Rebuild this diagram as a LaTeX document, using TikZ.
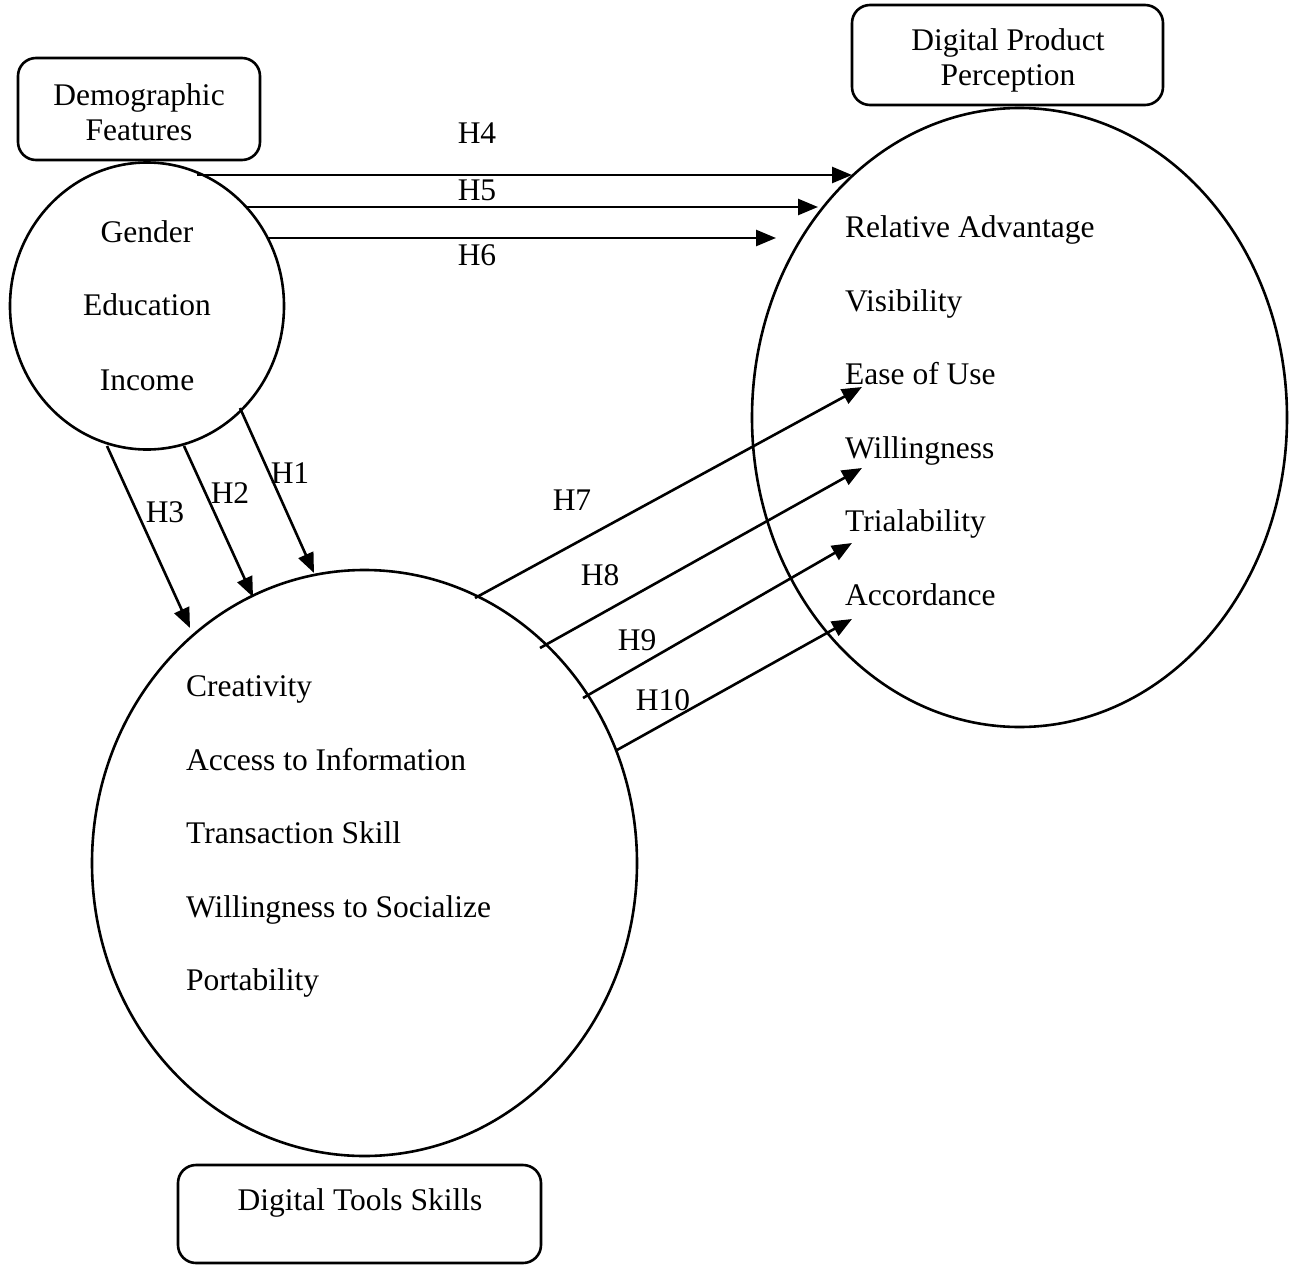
\documentclass[tikz,border=0pt]{standalone}
\usepackage{fontspec}
\setmainfont{Liberation Serif}
\usetikzlibrary{arrows.meta,shapes.geometric}
\begin{document}
\begin{tikzpicture}[x=1pt,y=-1pt,
  every node/.style={font=\fontsize{31.5}{38}\selectfont, inner sep=0pt},
  box/.style={draw, line width=2.6pt, rounded corners=18pt, inner sep=0pt},
  oval/.style={draw, ellipse, line width=2.6pt, inner sep=0pt},
  conn/.style={line width=2.6pt, -{Triangle[length=20pt,width=16pt]}},
  item/.style={anchor=base west},
  citem/.style={anchor=base},
  lbl/.style={anchor=center}]
\useasboundingbox (0,0) rectangle (1291,1266);

% boxes
\node[box, minimum width=242pt, minimum height=102pt] (demobox) at (139,109) {};
\node[citem] (demot1) at (139,105) {Demographic};
\node[citem] (demot2) at (139,140) {Features};

\node[box, minimum width=311pt, minimum height=100pt] (dppbox) at (1007.5,55) {};
\node[citem] (dppt1) at (1008,50) {Digital Product};
\node[citem] (dppt2) at (1008,85) {Perception};

\node[box, minimum width=363pt, minimum height=98pt] (dtsbox) at (359.5,1214) {};
\node[citem] (dtst) at (360,1210) {Digital Tools Skills};

% ovals
\node[oval, minimum width=274pt, minimum height=287pt] (demo) at (147,306) {};
\node[oval, minimum width=545pt, minimum height=586pt] (dts) at (364.5,863) {};
\node[oval, minimum width=535pt, minimum height=619pt] (dpp) at (1019.5,417.5) {};

% items in demographic oval
\node[citem] (gender) at (147,242) {Gender};
\node[citem] (educ) at (147,315) {Education};
\node[citem] (income) at (147,390) {Income};

% items in perception oval
\node[item] (ra) at (845,237) {Relative Advantage};
\node[item] (vis) at (845,311) {Visibility};
\node[item] (eou) at (845,384) {Ease of Use};
\node[item] (will) at (845,458) {Willingness};
\node[item] (trial) at (845,531) {Trialability};
\node[item] (acc) at (845,605) {Accordance};

% items in skills oval
\node[item] (crea) at (186,696) {Creativity};
\node[item] (ati) at (186,770) {Access to Information};
\node[item] (ts) at (186,843) {Transaction Skill};
\node[item] (wts) at (186,917) {Willingness to Socialize};
\node[item] (port) at (186,990) {Portability};

% connector end points
\coordinate (h4s) at (197,175);  \coordinate (h4e) at (852,175);
\coordinate (h5s) at (245,207);  \coordinate (h5e) at (818,207);
\coordinate (h6s) at (268,238);  \coordinate (h6e) at (776,238);
\coordinate (h1s) at (240,408);  \coordinate (h1e) at (314,573);
\coordinate (h2s) at (184,446);  \coordinate (h2e) at (253,597);
\coordinate (h3s) at (107,446);  \coordinate (h3e) at (190,628);
\coordinate (h7s) at (475,598);  \coordinate (h7e) at (862,387);
\coordinate (h8s) at (540,648);  \coordinate (h8e) at (862,468);
\coordinate (h9s) at (583,698);  \coordinate (h9e) at (852,543);
\coordinate (h10s) at (617,750); \coordinate (h10e) at (852,619);

\draw[conn] (h4s) -- (h4e);
\draw[conn] (h5s) -- (h5e);
\draw[conn] (h6s) -- (h6e);
\draw[conn] (h1s) -- (h1e);
\draw[conn] (h2s) -- (h2e);
\draw[conn] (h3s) -- (h3e);
\draw[conn] (h7s) -- (h7e);
\draw[conn] (h8s) -- (h8e);
\draw[conn] (h9s) -- (h9e);
\draw[conn] (h10s) -- (h10e);

% labels
\node[lbl] (l4) at (477,133) {H4};
\node[lbl] (l5) at (477,190) {H5};
\node[lbl] (l6) at (477,255) {H6};
\node[lbl] (l1) at (290,473) {H1};
\node[lbl] (l2) at (230,493) {H2};
\node[lbl] (l3) at (165,512) {H3};
\node[lbl] (l7) at (572,500) {H7};
\node[lbl] (l8) at (600,575) {H8};
\node[lbl] (l9) at (637,640) {H9};
\node[lbl] (l10) at (663,700) {H10};
\end{tikzpicture}
\end{document}
